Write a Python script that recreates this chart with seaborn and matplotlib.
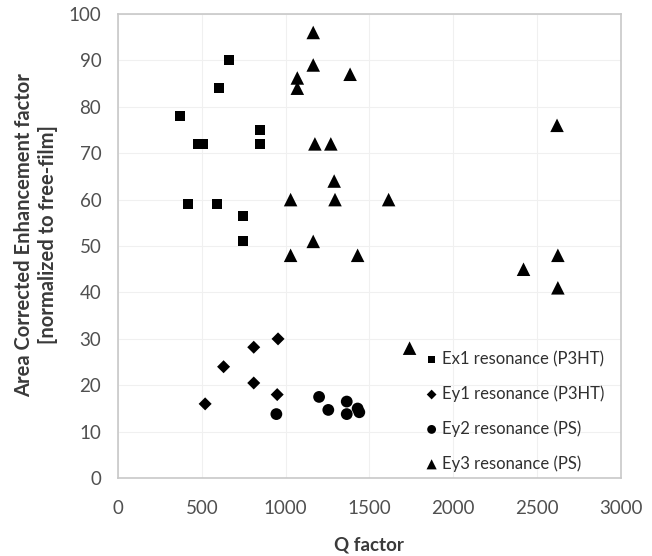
import matplotlib
matplotlib.use("Agg")
import matplotlib.pyplot as plt
import pandas as pd
import seaborn as sns

# Ex1 resonance (P3HT)
ex1_q = [660, 600, 370, 850, 850, 480, 510, 420, 590, 745, 745]
ex1_f = [90, 84, 78, 75, 72, 72, 72, 59, 59, 56.5, 51]
# Ey1 resonance (P3HT)
ey1_q = [520, 630, 810, 955, 810, 950]
ey1_f = [16, 24, 28.2, 30, 20.5, 18]
# Ey2 resonance (PS)
ey2_q = [945, 1200, 1255, 1365, 1365, 1430, 1440]
ey2_f = [13.8, 17.5, 14.7, 16.5, 13.8, 15, 14.2]
# Ey3 resonance (PS)
ey3_q = [1165, 1165, 1070, 1070, 1385, 1175, 1270, 1290, 1030, 1295, 1615,
         1165, 1030, 1430, 2620, 2420, 2625, 2625, 1740]
ey3_f = [96, 89, 86.2, 84, 87, 72, 72, 64, 60, 60, 60,
         51, 48, 48, 76, 45, 48, 41, 28]

series = [
    ("Ex1 resonance (P3HT)", ex1_q, ex1_f, "s", 52),
    ("Ey1 resonance (P3HT)", ey1_q, ey1_f, "D", 44),
    ("Ey2 resonance (PS)", ey2_q, ey2_f, "o", 72),
    ("Ey3 resonance (PS)", ey3_q, ey3_f, "^", 95),
]

sns.set_theme(style="white")
plt.rcParams['font.family'] = ['Lato', 'DejaVu Sans']

fig, ax = plt.subplots(figsize=(6.52, 5.56), dpi=100)
fig.subplots_adjust(left=0.181, right=0.952, bottom=0.140, top=0.975)

for name, q, f, mk, sz in series:
    df = pd.DataFrame({"Q": q, "F": f})
    sns.scatterplot(data=df, x="Q", y="F", marker=mk, s=sz, color="black",
                    edgecolor="none", linewidth=0, label=name, ax=ax, zorder=3)

ax.set_xlim(0, 3000)
ax.set_ylim(0, 100)
ax.set_xticks(range(0, 3001, 500))
ax.set_yticks(range(0, 101, 10))
ax.grid(True, color="#f0f0f0", linewidth=0.8)
for sp in ax.spines.values():
    sp.set_color("#c8c8c8")
    sp.set_linewidth(1.2)
ax.tick_params(axis="x", length=0, pad=16, labelsize=13.5, labelcolor="#505050")
ax.tick_params(axis="y", length=0, pad=12, labelsize=13.5, labelcolor="#505050")

ax.set_xlabel("Q factor", fontsize=13.5, fontweight="bold", color="#3a3a3a")
ax.xaxis.set_label_coords(0.5, -0.125)
ax.xaxis.label.set_va("top")
ax.set_ylabel("Area Corrected Enhancement factor\n[normalized to free-film]",
              fontsize=14.5, fontweight="bold", color="#3a3a3a", linespacing=1.2)
ax.yaxis.set_label_coords(-0.12, 0.524)

ax.legend(loc="lower right", bbox_to_anchor=(0.985, -0.004), frameon=False,
          borderpad=0, fontsize=12, markerscale=0.75, handlelength=0.6,
          handletextpad=0.35, labelspacing=1.1, labelcolor="#303030")

fig.savefig("out.png", dpi=100)
